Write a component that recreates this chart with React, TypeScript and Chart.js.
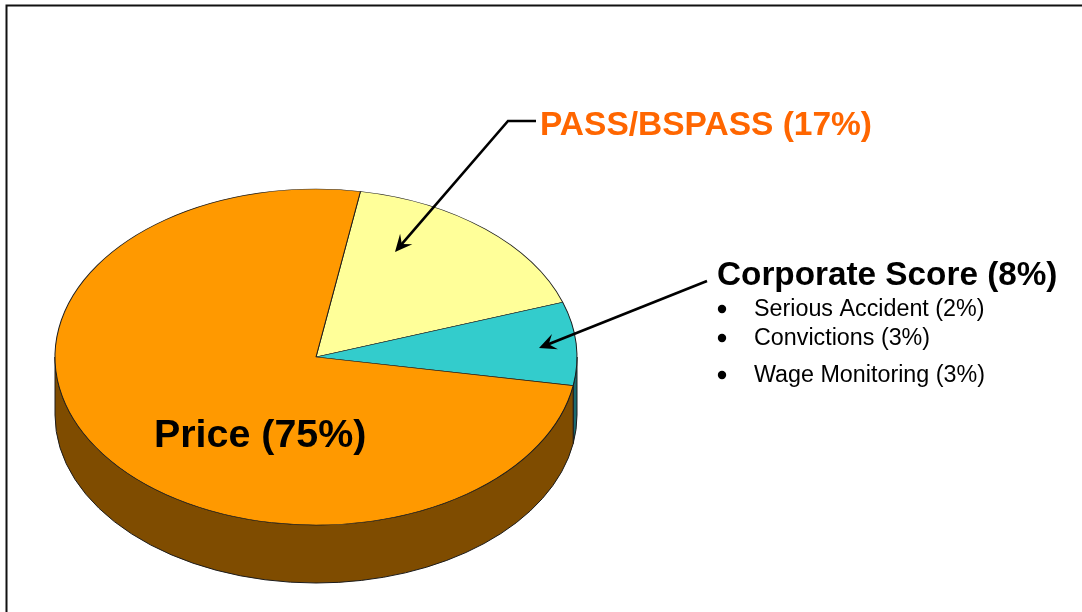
import React, { useEffect, useRef } from "react";
import { Chart, registerables } from "chart.js";

Chart.register(...registerables);

const categories = ["PASS/BSPASS", "Corporate Score", "Price"];
const shares = [17, 8, 75];
const sliceColors = ["#FFFF99", "#33CCCC", "#FF9900"];
const sideColors = ["#80804C", "#1A6A70", "#7F4C00"];
const subCategories = ["Serious Accident", "Convictions", "Wage Monitoring"];
const subShares = [2, 3, 3];

const WIDTH = 1082;
const HEIGHT = 612;
const CX = 316;
const CY = 357;
const RX = 261;
const RY = 168;
const DEPTH = 58;
const OUTLINE = "#1c1c1c";
const FONT = '"Liberation Sans", Arial, sans-serif';

function arrow(ctx: CanvasRenderingContext2D, pts: number[][]) {
  const n = pts.length;
  const [x2, y2] = pts[n - 1];
  const [x1, y1] = pts[n - 2];
  const a = Math.atan2(y2 - y1, x2 - x1);
  ctx.save();
  ctx.strokeStyle = "#000";
  ctx.fillStyle = "#000";
  ctx.lineWidth = 2.6;
  ctx.beginPath();
  ctx.moveTo(pts[0][0], pts[0][1]);
  for (let i = 1; i < n - 1; i++) ctx.lineTo(pts[i][0], pts[i][1]);
  ctx.lineTo(x2 - 8 * Math.cos(a), y2 - 8 * Math.sin(a));
  ctx.stroke();
  const L = 19;
  const W = 0.44;
  ctx.beginPath();
  ctx.moveTo(x2, y2);
  ctx.lineTo(x2 - L * Math.cos(a - W), y2 - L * Math.sin(a - W));
  ctx.lineTo(x2 - 0.55 * L * Math.cos(a), y2 - 0.55 * L * Math.sin(a));
  ctx.lineTo(x2 - L * Math.cos(a + W), y2 - L * Math.sin(a + W));
  ctx.closePath();
  ctx.fill();
  ctx.restore();
}

const tiltPlugin = {
  id: "tilt",
  beforeDatasetsDraw(chart: any) {
    const { ctx } = chart;
    const arcs = chart.getDatasetMeta(0).data;
    // the visible wall of the tilted disc: lower half of the ellipse
    ctx.save();
    ctx.lineWidth = 1;
    ctx.strokeStyle = OUTLINE;
    arcs.forEach((el: any, i: number) => {
      for (const shift of [0, Math.PI * 2, -Math.PI * 2]) {
        const s = Math.max(el.startAngle + shift, 0);
        const e = Math.min(el.endAngle + shift, Math.PI);
        if (e <= s) continue;
        ctx.beginPath();
        ctx.ellipse(CX, CY, RX, RY, 0, s, e);
        ctx.ellipse(CX, CY + DEPTH, RX, RY, 0, e, s, true);
        ctx.closePath();
        ctx.fillStyle = sideColors[i];
        ctx.fill();
        ctx.stroke();
      }
    });
    ctx.restore();
    const r = arcs[0].outerRadius;
    const x0 = arcs[0].x;
    const y0 = arcs[0].y;
    ctx.save();
    ctx.translate(CX, CY);
    ctx.scale(RX / r, RY / r);
    ctx.translate(-x0, -y0);
  },
  afterDatasetsDraw(chart: any) {
    chart.ctx.restore();
  },
};

const notesPlugin = {
  id: "notes",
  afterDraw(chart: any) {
    const { ctx } = chart;
    ctx.save();
    // slide frame
    ctx.strokeStyle = "#111";
    ctx.lineWidth = 2;
    ctx.beginPath();
    ctx.moveTo(6.5, HEIGHT);
    ctx.lineTo(6.5, 5.5);
    ctx.lineTo(WIDTH, 5.5);
    ctx.stroke();

    arrow(ctx, [[536, 121], [508, 121], [395, 252]]);
    arrow(ctx, [[707, 281], [539, 348]]);

    ctx.textBaseline = "alphabetic";
    ctx.textAlign = "left";
    ctx.font = `bold 33.5px ${FONT}`;
    ctx.fillStyle = "#FF6600";
    ctx.fillText(`${categories[0]} (${shares[0]}%)`, 540, 135);
    ctx.fillStyle = "#000";
    ctx.font = `bold 33.3px ${FONT}`;
    ctx.fillText(`${categories[1]} (${shares[1]}%)`, 717, 285);
    ctx.font = `bold 39.4px ${FONT}`;
    ctx.fillText(`${categories[2]} (${shares[2]}%)`, 154, 447);
    ctx.font = `23.3px ${FONT}`;
    const rows = [316, 345, 382];
    subCategories.forEach((name, i) => {
      ctx.fillText(`${name} (${subShares[i]}%)`, 754, rows[i]);
      ctx.beginPath();
      ctx.arc(722, rows[i] - 7, 4.2, 0, Math.PI * 2);
      ctx.fill();
    });
    ctx.restore();
  },
};

export default function App() {
  const ref = useRef<HTMLCanvasElement>(null);
  useEffect(() => {
    const chart = new Chart(ref.current as HTMLCanvasElement, {
      type: "pie",
      data: {
        labels: categories,
        datasets: [
          {
            data: shares,
            backgroundColor: sliceColors,
            borderColor: OUTLINE,
            borderWidth: 1,
          },
        ],
      },
      options: {
        responsive: false,
        animation: false,
        rotation: 9.8,
        layout: { padding: { left: 55, right: 505, top: 45, bottom: 45 } },
        plugins: { legend: { display: false }, tooltip: { enabled: false } },
      },
      plugins: [tiltPlugin, notesPlugin],
    } as any);
    return () => chart.destroy();
  }, []);
  return (
    <div style={{ position: "fixed", left: 0, top: 0, width: WIDTH, height: HEIGHT, background: "#fff" }}>
      <canvas ref={ref} width={WIDTH} height={HEIGHT} style={{ display: "block" }} />
    </div>
  );
}
